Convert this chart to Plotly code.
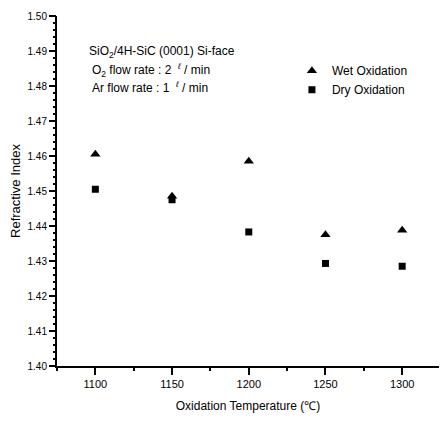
import plotly.graph_objects as go

temps = [1100, 1150, 1200, 1250, 1300]
wet_index = [1.4605, 1.4485, 1.4585, 1.4375, 1.4388]
dry_index = [1.4505, 1.4475, 1.4383, 1.4293, 1.4285]

X_RANGE = [1075, 1324]
Y_RANGE = [1.40, 1.50]

fig = go.Figure()
fig.add_trace(go.Scatter(x=temps, y=wet_index, mode="markers", name="Wet Oxidation",
                         marker=dict(symbol="triangle-up", size=9, color="black")))
fig.add_trace(go.Scatter(x=temps, y=dry_index, mode="markers", name="Dry Oxidation",
                         marker=dict(symbol="square", size=7, color="black")))

fig.update_layout(
    width=440, height=421,
    margin=dict(l=57, r=1, t=16, b=55),
    paper_bgcolor="white", plot_bgcolor="white",
    font=dict(family="Arial", size=11, color="black"),
    legend=dict(x=0.615, y=0.885, xanchor="left", yanchor="top",
                bgcolor="rgba(0,0,0,0)", font=dict(size=12), itemwidth=30,
                tracegroupgap=0),
    xaxis=dict(range=X_RANGE, dtick=50, tick0=1100,
               ticks="outside", ticklen=7, tickwidth=2, tickcolor="#000000",
               showline=True, linecolor="#000000", linewidth=2,
               showgrid=False, zeroline=False,
               title=dict(text="Oxidation Temperature (℃)", font=dict(size=12), standoff=12),
               tickfont=dict(size=11)),
    yaxis=dict(range=Y_RANGE, dtick=0.01, tick0=1.40,
               tickformat=".2f", ticks="outside", ticklen=6, tickwidth=2,
               tickcolor="#000000", showline=True, linecolor="#000000", linewidth=2,
               showgrid=False, zeroline=False,
               title=dict(text="Refractive Index", font=dict(size=13), standoff=4),
               tickfont=dict(size=10)),
    xaxis2=dict(range=X_RANGE, overlaying="x", side="bottom", anchor="y",
                dtick=25, tick0=1075, ticks="outside", ticklen=4, tickwidth=1.5,
                tickcolor="#000000", showticklabels=False, showgrid=False,
                zeroline=False, showline=False),
    yaxis2=dict(range=Y_RANGE, overlaying="y", side="left", anchor="x",
                dtick=0.002, tick0=1.40, ticks="outside", ticklen=3, tickwidth=1.5,
                tickcolor="#000000", showticklabels=False, showgrid=False,
                zeroline=False, showline=False),
)
fig.add_trace(go.Scatter(x=[None], y=[None], xaxis="x2", yaxis="y2",
                         showlegend=False, hoverinfo="skip"))

ann = [
    ("SiO<sub>2</sub>/4H-SiC (0001) Si-face", 52),
    ("O<sub>2</sub> flow rate : 2  <sup><i>ℓ</i></sup> / min", 70),
    ("Ar flow rate : 1  <sup><i>ℓ</i></sup> / min", 87),
]
for i, (t, ypx) in enumerate(ann):
    fig.add_annotation(text=t, xref="paper", yref="paper",
                       x=(87 - 57) / 382 if i == 0 else (90 - 57) / 382,
                       y=(366 - ypx) / 350, xanchor="left", yanchor="middle",
                       showarrow=False, font=dict(size=12))

fig.write_html("out.html")
